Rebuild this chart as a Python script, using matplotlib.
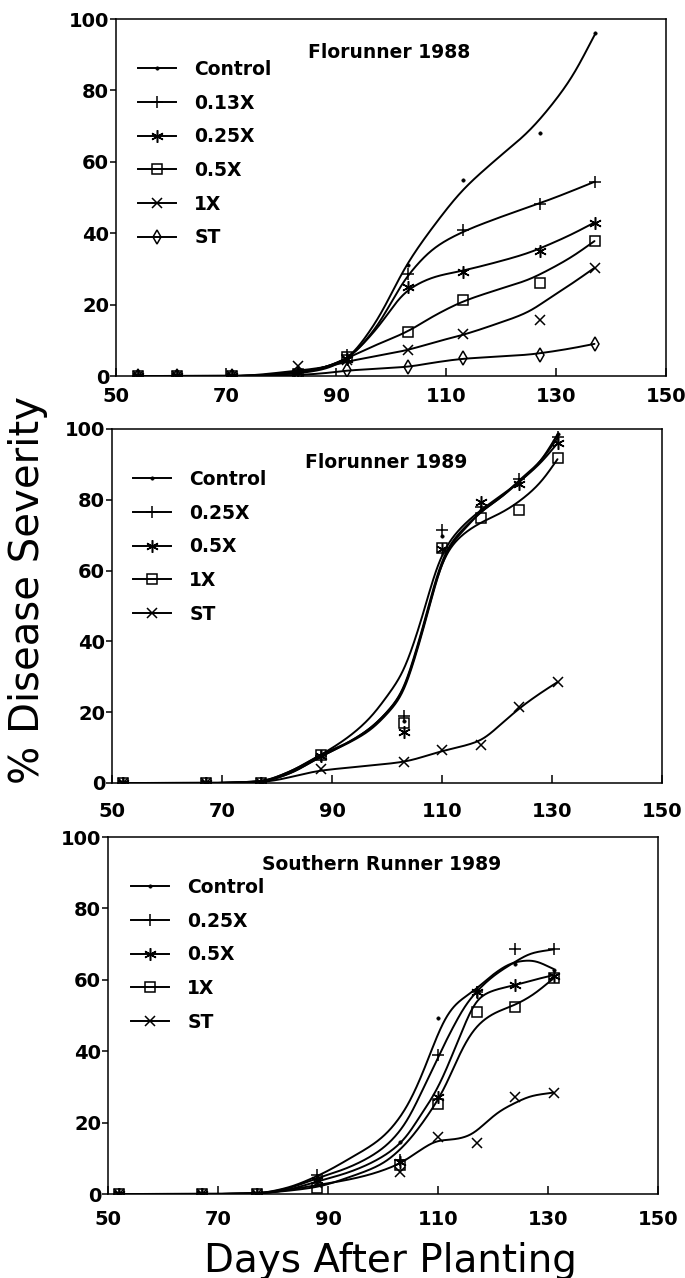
import numpy as np
import matplotlib
matplotlib.use("Agg")
import matplotlib.pyplot as plt
from matplotlib.lines import Line2D

# ---------------- data ----------------
# Panel 1: Florunner 1988
p1_title = "Florunner 1988"
p1_labels = ["Control", "0.13X", "0.25X", "0.5X", "1X", "ST"]
p1_days = [54, 61, 71, 83, 92, 103, 113, 127, 137]
p1_control = [0, 0, 0, 1, 4, 31, 55, 68, 96]
p1_013x = [0, 0, 0, 1.5, 5.8, 28.6, 40.8, 48.2, 54.3]
p1_025x = [0, 0, 0, 1, 4.9, 24.9, 29.1, 35, 42.8]
p1_05x = [0, 0, 0, 0.5, 5.3, 12.3, 21.2, 26, 37.8]
p1_1x = [0, 0, 0, 2.7, 4.4, 7.4, 11.8, 15.6, 30.3]
p1_st = [0, 0, 0, 0.2, 1.6, 2.5, 5, 5.8, 9]
# fitted curves
p1_fit_days = [54, 71, 83, 88, 92, 97, 103, 108, 113, 119, 125, 129, 133, 137]
p1_fit_control = [0, 0, 0.8, 2, 5, 14.5, 31.5, 42.5, 52, 60.5, 68.5, 75.5, 84, 95.5]
p1_fit_013x = [0, 0, 1, 2.5, 5, 13, 28, 36, 40.3, 44, 47.3, 49.5, 51.9, 54.4]
p1_fit_025x = [0, 0, 1, 2.5, 5, 12.5, 24, 27.8, 29.5, 31.8, 34.5, 37, 39.8, 43]
p1_fit_05x = [0, 0, 1, 2.5, 5, 8.5, 12.5, 17, 20.8, 24, 27, 30, 33.5, 37.8]
p1_fit_1x = [0, 0, 1.5, 2.5, 4, 5.5, 7.3, 9.5, 11.5, 14.5, 18, 22, 26, 30.3]
p1_fit_st = [0, 0, 0.3, 0.8, 1.5, 2, 2.6, 3.8, 4.8, 5.4, 6, 6.8, 7.8, 9]

# Panel 2: Florunner 1989
p2_title = "Florunner 1989"
p2_labels = ["Control", "0.25X", "0.5X", "1X", "ST"]
p2_days = [52, 67, 77, 88, 103, 110, 117, 124, 131]
p2_control = [0, 0, 0, 7.5, 17.5, 69.8, 77, 85, 98.5]
p2_025x = [0, 0, 0, 7.5, 19, 71.5, 78, 86, 97.8]
p2_05x = [0, 0, 0, 7.5, 14.5, 66, 79.5, 84.6, 96]
p2_1x = [0, 0, 0, 7.9, 17, 66.4, 75, 77, 91.7]
p2_st = [0, 0, 0, 4, 6, 9.3, 10.7, 21.6, 28.6]
p2_fit_days = [52, 67, 77, 82, 88, 93, 97, 100, 103, 105, 107, 109, 111, 114, 117, 121, 124, 128, 131]
p2_fit_control = [0, 0, 0.5, 3, 8, 13, 18.5, 24.5, 31.5, 40, 50, 61, 67.5, 73, 77, 81.5, 85, 91, 98.5]
p2_fit_025x = [0, 0, 0.4, 2.5, 7.5, 11.5, 15.5, 20, 26.3, 36, 46.5, 58.5, 66.5, 72, 76.5, 81, 85.5, 91, 97.5]
p2_fit_05x = [0, 0, 0.4, 2.5, 7.5, 11.3, 15, 19.5, 25.5, 35, 45.5, 57.5, 66, 71.5, 76.5, 81, 85, 90.5, 96]
p2_fit_1x = [0, 0, 0.5, 3, 8, 11.5, 15.5, 20, 26, 35.5, 46, 58, 65.5, 70.5, 73.5, 76.5, 79.5, 85, 91.5]
p2_fit_st_days = [52, 67, 77, 88, 96, 103, 110, 114, 117, 121, 124, 128, 131]
p2_fit_st = [0, 0, 0.3, 3.5, 4.8, 6, 9, 10.5, 12, 17, 21, 25.5, 28.5]

# Panel 3: Southern Runner 1989
p3_title = "Southern Runner 1989"
p3_labels = ["Control", "0.25X", "0.5X", "1X", "ST"]
p3_days = [52, 67, 77, 88, 103, 110, 117, 124, 131]
p3_control = [0, 0, 0, 5, 14.5, 49.2, 57, 64.5, 62.7]
p3_025x = [0, 0, 0, 5.3, 9.5, 39, 56.7, 68.5, 68.5]
p3_05x = [0, 0, 0, 3.9, 9, 27.3, 56.7, 58.5, 61]
p3_1x = [0, 0, 0, 1.6, 8.1, 25.2, 51, 52.3, 60.4]
p3_st = [0, 0, 0, 3, 6.3, 16, 14.3, 27.1, 28.4]
p3_fit_days = [52, 67, 77, 82, 88, 94, 100, 104, 107, 109, 111, 113, 115, 117, 120, 124, 127, 131]
p3_fit_control = [0, 0, 0.2, 1.5, 5, 10, 16, 23.5, 33, 41, 48.5, 53, 55.3, 57.5, 61.5, 65, 65.5, 63]
p3_fit_025x = [0, 0, 0.2, 1.3, 4.4, 7.6, 12.8, 19.5, 28.5, 35, 41.5, 47.5, 53, 56.7, 61, 65, 67.5, 68.5]
p3_fit_05x = [0, 0, 0.2, 1, 3.5, 6.2, 10.5, 15.5, 22.5, 27, 33, 40.5, 48, 54.5, 57, 58.5, 59.8, 61.3]
p3_fit_1x = [0, 0, 0.2, 0.8, 2, 4.8, 8.6, 13.8, 19.5, 24, 29, 36, 42.5, 47, 50.5, 53, 55.5, 60.4]
p3_fit_st_days = [52, 67, 77, 88, 96, 103, 107, 110, 113, 116, 118, 121, 124, 127, 131]
p3_fit_st = [0, 0, 0.2, 2.5, 4.8, 8.5, 12.5, 15, 15.3, 16.5, 19, 23, 25.5, 27.5, 28.4]

x_ticks = [50, 70, 90, 110, 130, 150]
y_ticks = [0, 20, 40, 60, 80, 100]
x_label = "Days After Planting"
y_label = "% Disease Severity"

# ---------------- helpers ----------------
def pchip(x, y, xn):
    x = np.asarray(x, float); y = np.asarray(y, float)
    h = np.diff(x); d = np.diff(y) / h
    n = len(x); m = np.zeros(n)
    for k in range(1, n - 1):
        if d[k - 1] * d[k] > 0:
            w1 = 2 * h[k] + h[k - 1]; w2 = h[k] + 2 * h[k - 1]
            m[k] = (w1 + w2) / (w1 / d[k - 1] + w2 / d[k])
    m[0] = d[0]; m[-1] = d[-1]
    idx = np.clip(np.searchsorted(x, xn) - 1, 0, n - 2)
    t = (xn - x[idx]) / h[idx]
    h00 = 2 * t**3 - 3 * t**2 + 1; h10 = t**3 - 2 * t**2 + t
    h01 = -2 * t**3 + 3 * t**2; h11 = t**3 - t**2
    return h00 * y[idx] + h10 * h[idx] * m[idx] + h01 * y[idx + 1] + h11 * h[idx] * m[idx + 1]

def smooth_curve(x, y, step=0.1, sigma=1.1):
    xs = np.arange(x[0], x[-1] + step / 2, step)
    ys = pchip(x, y, xs)
    k = int(4 * sigma / step)
    left = ys[0] - (ys[1] - ys[0]) * np.arange(k, 0, -1)
    right = ys[-1] + (ys[-1] - ys[-2]) * np.arange(1, k + 1)
    ext = np.concatenate([left, ys, right])
    g = np.exp(-0.5 * (np.arange(-k, k + 1) * step / sigma) ** 2)
    g /= g.sum()
    sm = np.convolve(ext, g, mode="valid")
    return xs, np.maximum(sm, 0)

ASTER = (6, 2, 0)
MK = {
    "Control": dict(marker="o", ms=2.4, mfc="black", mew=0.5),
    "0.13X": dict(marker="+", ms=9, mew=1.1),
    "0.25X_p1": dict(marker=ASTER, ms=9, mew=1.1),
    "0.5X_p1": dict(marker="s", ms=6.5, mfc="none", mew=1.1),
    "1X_p1": dict(marker="x", ms=6.5, mew=1.1),
    "ST_p1": dict(marker="d", ms=7.5, mfc="none", mew=1.1),
    "0.25X": dict(marker="+", ms=9, mew=1.1),
    "0.5X": dict(marker=ASTER, ms=9, mew=1.1),
    "1X": dict(marker="s", ms=6.5, mfc="none", mew=1.1),
    "ST": dict(marker="x", ms=6.5, mew=1.1),
}

W, H = 685, 1278
fig = plt.figure(figsize=(W / 100, H / 100), dpi=100)

legfont = dict(family="DejaVu Sans", weight="bold", size=13.5)

def make_axes(left, top, bottom, width, xpad):
    ax = fig.add_axes([left / W, 1 - bottom / H, width / W, (bottom - top) / H])
    ax.set_xlim(50, 150); ax.set_ylim(0, 100)
    ax.set_xticks(x_ticks); ax.set_yticks(y_ticks)
    ax.tick_params(axis="x", direction="in", length=6, width=1.1, pad=xpad)
    ax.tick_params(axis="y", direction="out", length=4, width=1.1, pad=1)
    for lab in ax.get_xticklabels() + ax.get_yticklabels():
        lab.set_fontfamily("DejaVu Sans"); lab.set_fontweight("bold"); lab.set_fontsize(14)
    for s in ax.spines.values():
        s.set_linewidth(1.1)
    return ax

def draw_panel(ax, title, title_xy, days, series, fits, labels, keys, leg_xy):
    handles = []
    for lab, key, obs, (fd, fv) in zip(labels, keys, series, fits):
        xs, ys = smooth_curve(fd, fv)
        ax.plot(xs, ys, color="black", lw=1.4, solid_capstyle="round")
        st = MK[key]
        ax.plot(days, obs, ls="none", color="black", mec="black", **st)
        handles.append(Line2D([0], [0], color="black", lw=1.4, mec="black", **st))
    fig.text(title_xy[0] / W, 1 - title_xy[1] / H, title, ha="center", va="center", **legfont)
    leg = ax.legend(handles, labels, loc="upper left",
                    bbox_to_anchor=(leg_xy[0] / W, 1 - leg_xy[1] / H),
                    bbox_transform=fig.transFigure, frameon=False, borderpad=0,
                    borderaxespad=0, handlelength=2.0, handletextpad=1.0,
                    labelspacing=0.78, numpoints=1, prop=legfont)
    return leg

# Panel 1
ax1 = make_axes(116, 19, 376, 550, 8)
draw_panel(ax1, p1_title, (389, 53), p1_days,
           [p1_control, p1_013x, p1_025x, p1_05x, p1_1x, p1_st],
           [(p1_fit_days, p1_fit_control), (p1_fit_days, p1_fit_013x),
            (p1_fit_days, p1_fit_025x), (p1_fit_days, p1_fit_05x),
            (p1_fit_days, p1_fit_1x), (p1_fit_days, p1_fit_st)],
           p1_labels, ["Control", "0.13X", "0.25X_p1", "0.5X_p1", "1X_p1", "ST_p1"],
           (138, 60))

# Panel 2
ax2 = make_axes(112, 429, 783, 550, 14)
draw_panel(ax2, p2_title, (386, 463), p2_days,
           [p2_control, p2_025x, p2_05x, p2_1x, p2_st],
           [(p2_fit_days, p2_fit_control), (p2_fit_days, p2_fit_025x),
            (p2_fit_days, p2_fit_05x), (p2_fit_days, p2_fit_1x),
            (p2_fit_st_days, p2_fit_st)],
           p2_labels, ["Control", "0.25X", "0.5X", "1X", "ST"],
           (133, 470))

# Panel 3
ax3 = make_axes(108, 837, 1194, 550, 11.5)
draw_panel(ax3, p3_title, (382, 865), p3_days,
           [p3_control, p3_025x, p3_05x, p3_1x, p3_st],
           [(p3_fit_days, p3_fit_control), (p3_fit_days, p3_fit_025x),
            (p3_fit_days, p3_fit_05x), (p3_fit_days, p3_fit_1x),
            (p3_fit_st_days, p3_fit_st)],
           p3_labels, ["Control", "0.25X", "0.5X", "1X", "ST"],
           (131, 878))

fig.text(390 / W, 1 - 1272 / H, x_label, ha="center", va="baseline",
         family="DejaVu Sans", size=28)
fig.text(28 / W, 1 - 590 / H, y_label, ha="center", va="center", rotation=90,
         family="DejaVu Sans", size=29)

fig.savefig("out.png", dpi=100)
